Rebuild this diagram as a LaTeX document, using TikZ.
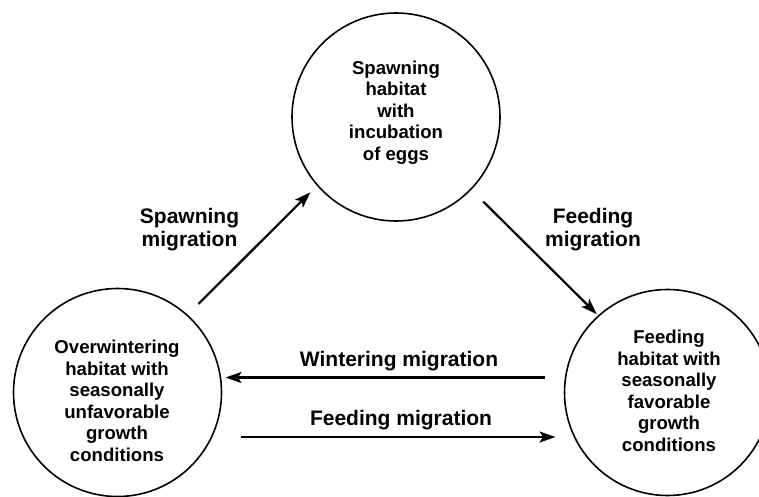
\documentclass[tikz,border=0pt]{standalone}
\usepackage{fontspec}
\setmainfont{Liberation Sans}
\usetikzlibrary{arrows.meta}
\begin{document}
\begin{tikzpicture}[x=1pt,y=-1pt,
  hab/.style={circle,draw,line width=1.6pt,minimum size=208pt,inner sep=0pt,outer sep=0pt},
  ctext/.style={font=\bfseries\fontsize{18.6}{21.5}\selectfont,align=center,inner sep=0pt},
  ltext/.style={font=\bfseries\fontsize{21}{23.5}\selectfont,align=center,inner sep=0pt},
  arr/.style={line width=2.2pt,-{Stealth[length=16pt,width=11pt,inset=3.5pt]}}]
\useasboundingbox (0,0) rectangle (759,497);
\clip (0,0) rectangle (759,497);
\fill[white] (0,0) rectangle (759,497);
% habitats
\node[hab] (sp) at (396,117) {};
\node[hab] (ow) at (117.5,392.5) {};
\node[hab,minimum size=206pt] (fd) at (667.5,392.5) {};
\node[ctext] (sptxt) at (396,112.5) {Spawning\\habitat\\with\\incubation\\of eggs};
\node[ctext] (owtxt) at (117,401) {Overwintering\\habitat with\\seasonally\\unfavorable\\growth\\conditions};
\node[ctext] (fdtxt) at (669,391) {Feeding\\habitat with\\seasonally\\favorable\\growth\\conditions};
% migrations
\draw[arr,shorten <=16pt,shorten >=10pt] (ow.48.4) -- (sp.221.1);
\draw[arr,shorten <=17.6pt,shorten >=2.5pt] (sp.-44.3) -- (fd.132.3);
\draw[arr] ([shift={(-20,-15)}]fd.west) -- ([shift={(4,-15)}]ow.east);
\draw[arr] ([shift={(19,44.5)}]ow.east) -- ([shift={(-9,44.5)}]fd.west);
% labels
\node[ltext] (lsp) at (189.5,229.5) {Spawning\\migration};
\node[ltext] (lfd) at (593,229.5) {Feeding\\migration};
\node[ltext] (lwi) at (399,361) {Wintering migration};
\node[ltext] (lfe) at (401,420) {Feeding migration};
\end{tikzpicture}
\end{document}
